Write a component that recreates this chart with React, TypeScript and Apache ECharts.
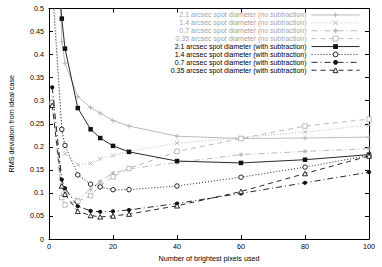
import React, { useEffect, useRef } from "react";
import * as echarts from "echarts";

const xVals = [1, 4, 5, 9, 13, 16, 20, 25, 40, 60, 80, 100];

const noSub21 = [1.09, 0.428, 0.381, 0.309, 0.285, 0.273, 0.257, 0.245, 0.223, 0.218, 0.219, 0.221];
const noSub14 = [0.6, 0.236, 0.185, 0.161, 0.164, 0.174, 0.181, 0.19, 0.208, 0.22, 0.232, 0.247];
const noSub07 = [0.3, 0.117, 0.1, 0.085, 0.108, 0.125, 0.143, 0.152, 0.166, 0.183, 0.19, 0.196];
const noSub035 = [0.295, 0.09, 0.074, 0.082, 0.094, 0.116, 0.135, 0.153, 0.19, 0.218, 0.245, 0.26];

const withSub21 = [0.69, 0.478, 0.413, 0.284, 0.238, 0.219, 0.202, 0.189, 0.169, 0.165, 0.172, 0.183];
const withSub14 = [0.55, 0.238, 0.203, 0.139, 0.119, 0.113, 0.107, 0.107, 0.115, 0.134, 0.156, 0.181];
const withSub07 = [0.329, 0.129, 0.11, 0.071, 0.061, 0.059, 0.06, 0.063, 0.077, 0.099, 0.122, 0.145];
const withSub035 = [0.29, 0.115, 0.097, 0.06, 0.051, 0.048, 0.05, 0.054, 0.072, 0.103, 0.142, 0.18];

const seriesNames = [
  "2.1 arcsec spot diameter (no subtraction)",
  "1.4 arcsec spot diameter (no subtraction)",
  "0.7 arcsec spot diameter (no subtraction)",
  "0.35 arcsec spot diameter (no subtraction)",
  "2.1 arcsec spot diameter (with subtraction)",
  "1.4 arcsec spot diameter (with subtraction)",
  "0.7 arcsec spot diameter (with subtraction)",
  "0.35 arcsec spot diameter (with subtraction)",
];

const xTitle = "Number of brightest pixels used";
const yTitle = "RMS deviation from ideal case";

const GRAY = "#b2b2b2";
const BLACK = "#111111";
const FONT = "Liberation Sans, Arial, sans-serif";
const FS = 7.2;
const LEG_FS = 7.0;
const LEG_ROW = 7.9;

const plusPath = "path://M5,0L5,10M0,5L10,5";
const crossPath = "path://M0,0L10,10M10,0L0,10";
const starPath = "path://M5,0L5,10M0,5L10,5M1.5,1.5L8.5,8.5M8.5,1.5L1.5,8.5";
const ringPath = "path://M5,0A5,5 0 1,1 5,10A5,5 0 1,1 5,0Z";
const boxPath = "path://M0,0L10,0L10,10L0,10Z";
const triPath = "path://M5,0L10,9L0,9Z";

function pairs(vals: number[]) {
  return xVals.map((x, i) => [x, vals[i]]);
}

export default function App() {
  const ref = useRef<HTMLDivElement>(null);
  useEffect(() => {
    if (!ref.current) return;
    const chart = echarts.init(ref.current, undefined, { renderer: "svg" });

    const defs = [
      { data: noSub21, color: GRAY, type: "solid", symbol: plusPath, size: 5, mode: "stroke" },
      { data: noSub14, color: GRAY, type: [1, 2], symbol: crossPath, size: 4, mode: "stroke" },
      { data: noSub07, color: GRAY, type: [6, 3, 1, 3], symbol: starPath, size: 4.5, mode: "stroke" },
      { data: noSub035, color: GRAY, type: [5, 4], symbol: boxPath, size: 4.5, mode: "empty" },
      { data: withSub21, color: BLACK, type: "solid", symbol: "rect", size: 4.5, mode: "fill" },
      { data: withSub14, color: BLACK, type: [1, 2], symbol: ringPath, size: 4.5, mode: "empty" },
      { data: withSub07, color: BLACK, type: [6, 3, 1, 3], symbol: "circle", size: 4.2, mode: "fill" },
      { data: withSub035, color: BLACK, type: [5, 4], symbol: triPath, size: 5, mode: "empty" },
    ];

    const series = defs.map((d, i) => ({
      name: seriesNames[i],
      type: "line",
      data: pairs(d.data),
      symbol: d.symbol,
      symbolSize: d.size,
      symbolKeepAspect: true,
      showAllSymbol: true,
      clip: true,
      z: i < 4 ? 2 : 3,
      lineStyle: { color: d.color, width: 0.9, type: d.type as any },
      itemStyle:
        d.mode === "fill"
          ? { color: d.color, borderWidth: 0 }
          : d.mode === "stroke"
          ? { color: "transparent", borderColor: d.color, borderWidth: 0.9 }
          : { color: "#ffffff", borderColor: d.color, borderWidth: 0.9 },
      emphasis: { disabled: true },
    }));

    const tickLabel = { fontSize: FS, color: "#000", fontFamily: FONT };

    chart.setOption({
      animation: false,
      textStyle: { fontFamily: FONT },
      grid: { left: 42, right: 13, top: 8.5, bottom: 23, containLabel: false },
      legend: {
        orient: "vertical",
        right: 22,
        top: 11,
        align: "right",
        padding: 0,
        itemGap: 0,
        itemWidth: 48,
        itemHeight: 6,
        selectedMode: false,
        lineStyle: { width: 0.9 },
        itemStyle: { borderWidth: 0.9 },
        data: seriesNames.map((n, i) => ({
          name: n,
          textStyle: {
            color: i < 4 ? "#a4a4a4" : "#000",
            fontSize: LEG_FS,
            lineHeight: LEG_ROW,
            height: LEG_ROW,
            fontFamily: FONT,
          },
        })),
      },
      xAxis: [
        {
          type: "value",
          min: 0,
          max: 100,
          interval: 20,
          position: "bottom",
          name: xTitle,
          nameLocation: "middle",
          nameGap: 16,
          nameTextStyle: { fontSize: FS, color: "#000", fontFamily: FONT },
          axisLine: { show: true, onZero: false, lineStyle: { color: "#000", width: 1 } },
          axisTick: { show: true, inside: true, length: 4, lineStyle: { color: "#000" } },
          axisLabel: { ...tickLabel, margin: 4 },
          splitLine: { show: false },
        },
        {
          type: "value",
          min: 0,
          max: 100,
          interval: 20,
          position: "top",
          axisLine: { show: true, onZero: false, lineStyle: { color: "#000", width: 1 } },
          axisTick: { show: true, inside: true, length: 4, lineStyle: { color: "#000" } },
          axisLabel: { show: false },
          splitLine: { show: false },
        },
      ],
      yAxis: [
        {
          type: "value",
          min: 0,
          max: 0.5,
          interval: 0.05,
          position: "left",
          name: yTitle,
          nameLocation: "middle",
          nameRotate: 90,
          nameGap: 34,
          nameTextStyle: { fontSize: FS, color: "#000", fontFamily: FONT },
          axisLine: { show: true, onZero: false, lineStyle: { color: "#000", width: 1 } },
          axisTick: { show: true, inside: true, length: 4, lineStyle: { color: "#000" } },
          axisLabel: {
            ...tickLabel,
            margin: 5,
            formatter: (v: number) => String(+v.toFixed(2)),
          },
          splitLine: { show: false },
        },
        {
          type: "value",
          min: 0,
          max: 0.5,
          interval: 0.05,
          position: "right",
          axisLine: { show: true, onZero: false, lineStyle: { color: "#000", width: 1 } },
          axisTick: { show: true, inside: true, length: 4, lineStyle: { color: "#000" } },
          axisLabel: { show: false },
          splitLine: { show: false },
        },
      ],
      series,
    });
    return () => chart.dispose();
  }, []);
  return (
    <div
      ref={ref}
      style={{ position: "fixed", left: 0, top: 0, width: 382, height: 267, background: "#fff" }}
    />
  );
}
